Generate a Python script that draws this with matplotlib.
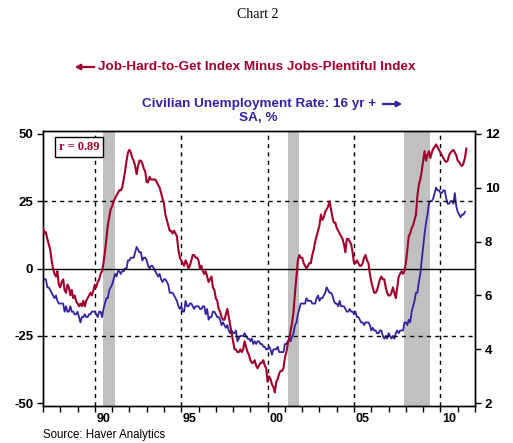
import matplotlib
matplotlib.use("Agg")
import matplotlib.pyplot as plt
import numpy as np

# Job-Hard-to-Get minus Jobs-Plentiful index, monthly, Jan 1987 - Jul 2011
job_gap = {
    1987: [15, 13, 13.5, 11, 9, 7, 3, 0, -2, -3, -1, -6],
    1988: [-7, -5, -4, -8, -9, -6, -7, -10, -8, -11, -10, -12],
    1989: [-13, -14, -13, -14, -12, -14, -12, -11, -10, -9, -10, -8],
    1990: [-6, -7, -5, -4, -2, -1, 2, 6, 11, 16, 19, 22],
    1991: [23, 25, 26, 27, 28, 29, 29, 30, 33, 36, 40, 43],
    1992: [44, 43, 41, 40, 38, 35, 38, 40, 40, 39, 37, 36],
    1993: [32, 32, 34, 33, 33, 33, 33, 32, 31, 30, 28, 26],
    1994: [24, 20, 18, 16, 14, 14, 13, 14, 13, 12, 7, 4],
    1995: [3, 2, 1, 3, 2, 0, 1, 3, 5, 5, 4, 4],
    1996: [3, 0, 1, -1, -2, -1, -3, -5, -4, -3, -7, -8],
    1997: [-11, -12, -15, -16, -18, -19, -19, -17, -15, -18, -21, -24],
    1998: [-27, -30, -30, -31, -31, -30, -31, -30, -27, -29, -31, -32],
    1999: [-34, -35, -35, -34, -36, -37, -36, -35, -35, -34, -36, -37],
    2000: [-42, -40, -41, -43, -44, -46, -42, -41, -39, -38, -38, -37],
    2001: [-33, -31, -28, -26, -23, -20, -16, -9, -3, 3, 5, 4],
    2002: [4, 2, 1, 0, 1, 2, 2, 5, 7, 10, 12, 14],
    2003: [16, 20, 18, 19, 21, 22, 23, 25, 22, 19, 17, 17],
    2004: [15, 14, 13, 12, 11, 9, 6, 11, 11, 10, 9, 6],
    2005: [2, 2, 3, 2, 1, 1, 2, 4, 5, 3, 2, -2],
    2006: [-5, -7, -9, -9, -8, -6, -4, -3, -4, -4, -7, -9],
    2007: [-10, -10, -9, -7, -9, -11, -7, -3, -2, -1, -2, -1],
    2008: [2, 7, 12, 13, 15, 16, 18, 20, 27, 31, 33, 36],
    2009: [40, 43.5, 40, 42, 43.5, 41, 43, 44.5, 45, 46, 45, 44],
    2010: [43, 42, 41, 40, 39.5, 40, 42, 43, 43.5, 44, 43, 42],
    2011: [40, 39.5, 38.5, 38, 39, 41, 44.5],
}

# Civilian unemployment rate 16 yr +, SA, %, Jan 1987 - Jun 2011
unemp = {
    1987: [6.6, 6.6, 6.6, 6.3, 6.3, 6.2, 6.1, 6.0, 5.9, 6.0, 5.8, 5.7],
    1988: [5.7, 5.7, 5.7, 5.4, 5.6, 5.4, 5.4, 5.6, 5.4, 5.4, 5.3, 5.3],
    1989: [5.4, 5.2, 5.0, 5.2, 5.2, 5.3, 5.2, 5.2, 5.3, 5.3, 5.4, 5.4],
    1990: [5.4, 5.3, 5.2, 5.4, 5.4, 5.2, 5.5, 5.7, 5.9, 5.9, 6.2, 6.3],
    1991: [6.4, 6.6, 6.8, 6.7, 6.9, 6.9, 6.8, 6.9, 6.9, 7.0, 7.0, 7.3],
    1992: [7.3, 7.4, 7.4, 7.4, 7.6, 7.8, 7.7, 7.6, 7.6, 7.3, 7.4, 7.4],
    1993: [7.3, 7.1, 7.0, 7.1, 7.1, 7.0, 6.9, 6.8, 6.7, 6.8, 6.6, 6.5],
    1994: [6.6, 6.6, 6.5, 6.4, 6.1, 6.1, 6.1, 6.0, 5.9, 5.8, 5.6, 5.5],
    1995: [5.6, 5.4, 5.4, 5.8, 5.6, 5.6, 5.7, 5.7, 5.6, 5.5, 5.6, 5.6],
    1996: [5.6, 5.5, 5.5, 5.6, 5.6, 5.3, 5.5, 5.1, 5.2, 5.2, 5.4, 5.4],
    1997: [5.3, 5.2, 5.2, 5.1, 4.9, 5.0, 4.9, 4.8, 4.9, 4.7, 4.6, 4.7],
    1998: [4.6, 4.6, 4.7, 4.3, 4.4, 4.5, 4.5, 4.5, 4.6, 4.5, 4.4, 4.4],
    1999: [4.3, 4.4, 4.2, 4.3, 4.2, 4.3, 4.3, 4.2, 4.2, 4.1, 4.1, 4.0],
    2000: [4.0, 4.1, 4.0, 3.8, 4.0, 4.0, 4.0, 4.1, 3.9, 3.9, 3.9, 3.9],
    2001: [4.2, 4.2, 4.3, 4.4, 4.3, 4.5, 4.6, 4.9, 5.0, 5.3, 5.5, 5.7],
    2002: [5.7, 5.7, 5.7, 5.9, 5.8, 5.8, 5.8, 5.7, 5.7, 5.7, 5.9, 6.0],
    2003: [5.8, 5.9, 5.9, 6.0, 6.1, 6.3, 6.2, 6.1, 6.1, 6.0, 5.8, 5.7],
    2004: [5.7, 5.6, 5.8, 5.6, 5.6, 5.6, 5.5, 5.4, 5.4, 5.5, 5.4, 5.4],
    2005: [5.3, 5.4, 5.2, 5.2, 5.1, 5.0, 5.0, 4.9, 5.0, 5.0, 5.0, 4.9],
    2006: [4.7, 4.8, 4.7, 4.7, 4.6, 4.6, 4.7, 4.7, 4.5, 4.4, 4.5, 4.4],
    2007: [4.6, 4.5, 4.4, 4.5, 4.4, 4.6, 4.7, 4.6, 4.7, 4.7, 4.7, 5.0],
    2008: [5.0, 4.9, 5.1, 5.0, 5.4, 5.6, 5.8, 6.1, 6.1, 6.5, 6.8, 7.3],
    2009: [7.8, 8.3, 8.7, 9.0, 9.4, 9.5, 9.5, 9.6, 9.8, 10.0, 9.9, 9.9],
    2010: [9.8, 9.8, 9.9, 9.9, 9.6, 9.4, 9.4, 9.5, 9.5, 9.4, 9.8, 9.3],
    2011: [9.1, 9.0, 8.9, 9.0, 9.0, 9.1],
}

recessions = [(1990.5, 1991.17), (2001.17, 2001.84), (2007.92, 2009.42)]
year_labels = ["90", "95", "00", "05", "10"]
label_years = [1990, 1995, 2000, 2005, 2010]
left_ticks = [-50, -25, 0, 25, 50]
right_ticks = [2, 4, 6, 8, 10, 12]


def monthly(series):
    x, y = [], []
    for yr, vals in series.items():
        for m, v in enumerate(vals):
            x.append(yr + m / 12.0)
            y.append(v)
    return np.array(x), np.array(y)


red = "#A0002C"
blue = "#3522A0"
tick_font = dict(fontweight="bold", fontsize=9.5, family="Liberation Sans")

fig = plt.figure(figsize=(5.13, 4.43), dpi=100)
ax1 = fig.add_axes([43 / 513, 1 - 406 / 443, 432 / 513, 275 / 443])
ax2 = ax1.twinx()
ax1.set_zorder(ax2.get_zorder() + 1)
ax1.patch.set_visible(False)

for a, b in recessions:
    ax2.axvspan(a, b, color="#C0C0C0", lw=0, zorder=0)
for yr in label_years:
    ax2.axvline(yr, color="black", ls=(0, (3, 3)), lw=1, zorder=1)

ax1.axhline(0, color="black", lw=1, zorder=1)
for v in (25, -25):
    ax1.axhline(v, color="black", ls=(0, (3, 3)), lw=1, zorder=1)

xb, yb = monthly(unemp)
ax2.plot(xb, yb, color=blue, lw=1.3, zorder=3)
xr, yr_ = monthly(job_gap)
ax1.plot(xr, yr_, color=red, lw=1.5, zorder=4)

ax1.set_xlim(1987, 2012)
ax1.set_ylim(-51, 51)
ax2.set_ylim(1.9, 12.1)

ax1.set_yticks(left_ticks)
ax1.set_yticklabels([str(t) for t in left_ticks], **tick_font)
ax2.set_yticks(right_ticks)
ax2.set_yticklabels([str(t) for t in right_ticks], **tick_font)
ax1.set_xticks(np.arange(1987, 2013))
ax1.set_xticklabels([])
ax1.set_xticks([y + 0.5 for y in label_years], minor=True)
ax1.set_xticklabels(year_labels, minor=True, fontweight="bold", fontsize=9,
                    family="Liberation Sans")
ax1.tick_params(axis="x", which="major", direction="out", length=4, width=1)
ax1.tick_params(axis="x", which="minor", length=0, pad=5)
ax1.tick_params(axis="y", direction="out", length=4, width=1, pad=3)
ax2.tick_params(axis="y", direction="out", length=4, width=1, pad=3)
for a in (ax1, ax2):
    for s in a.spines.values():
        s.set_linewidth(1)
        s.set_color("black")

ax1.text(0.0365, 0.9645, "r = 0.89", transform=ax1.transAxes, ha="left", va="top",
         color=red, fontsize=9, fontweight="bold", family="Liberation Serif",
         bbox=dict(boxstyle="square,pad=0.3", fc="white", ec="black", lw=1))

fig.text(0.503, 1 - 14 / 443, "Chart 2", ha="center", va="center",
         fontsize=10, family="Liberation Serif")

fig.text(98 / 513, 1 - 67 / 443, "Job-Hard-to-Get Index Minus Jobs-Plentiful Index",
         ha="left", va="center", color=red, fontsize=9.7, fontweight="bold",
         family="Liberation Sans")
fig.patches.append(matplotlib.patches.FancyArrowPatch(
    (97 / 513, 1 - 67 / 443), (72 / 513, 1 - 67 / 443), transform=fig.transFigure,
    arrowstyle="-|>,head_length=3,head_width=1.6", color=red, lw=1.6))

fig.text(376 / 513, 1 - 104 / 443, "Civilian Unemployment Rate: 16 yr +",
         ha="right", va="center", color=blue, fontsize=9.7, fontweight="bold",
         family="Liberation Sans")
fig.patches.append(matplotlib.patches.FancyArrowPatch(
    (380 / 513, 1 - 104 / 443), (405 / 513, 1 - 104 / 443), transform=fig.transFigure,
    arrowstyle="-|>,head_length=3,head_width=1.6", color=blue, lw=1.6))
fig.text(258 / 513, 1 - 118 / 443, "SA, %", ha="center", va="center", color=blue,
         fontsize=9.7, fontweight="bold", family="Liberation Sans")

fig.text(43 / 513, 1 - 438 / 443, "Source: Haver Analytics", ha="left",
         va="baseline", fontsize=8.3, family="Liberation Sans")

fig.savefig("out.png", dpi=100)
